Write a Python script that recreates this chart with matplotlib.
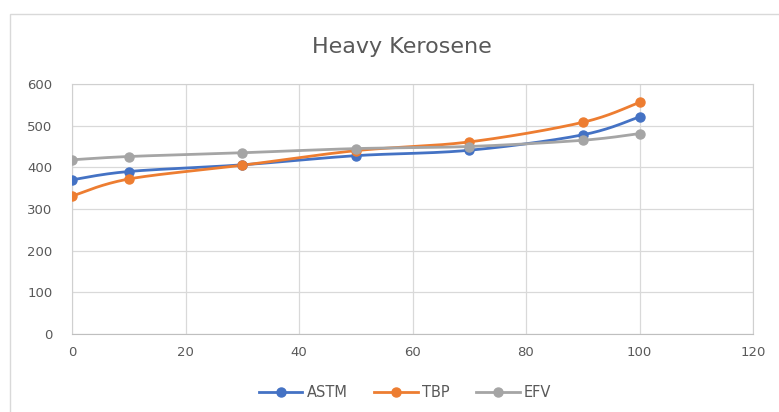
import numpy as np
import matplotlib.pyplot as plt

# distillation curves, temperature vs. volume % distilled
vol_pct = [0, 10, 30, 50, 70, 90, 100]
astm = [370, 390, 406, 428, 441, 478, 521]
tbp = [331, 372, 405, 440, 461, 508, 556]
efv = [418, 426, 435, 445, 450, 465, 481]

series_names = ["ASTM", "TBP", "EFV"]
series_colors = ["#4472C4", "#ED7D31", "#A5A5A5"]


def smooth_curve(x, y, n=30):
    # Catmull-Rom style bezier through the points (spreadsheet "smoothed line")
    p = np.column_stack([x, y]).astype(float)
    p = np.vstack([p[0], p, p[-1]])
    out = []
    for i in range(1, len(p) - 2):
        p0, p1, p2, p3 = p[i - 1], p[i], p[i + 1], p[i + 2]
        c1 = p1 + (p2 - p0) / 6.0
        c2 = p2 - (p3 - p1) / 6.0
        t = np.linspace(0, 1, n)[:, None]
        seg = ((1 - t) ** 3) * p1 + 3 * ((1 - t) ** 2) * t * c1 \
            + 3 * (1 - t) * t ** 2 * c2 + t ** 3 * p2
        out.append(seg if i == 1 else seg[1:])
    out = np.vstack(out)
    return out[:, 0], out[:, 1]


fig = plt.figure(figsize=(7.79, 4.12), dpi=100)
ax = fig.add_axes([72 / 779, 78 / 412, 681 / 779, 250 / 412])

for name, vals, col in zip(series_names, [astm, tbp, efv], series_colors):
    sx, sy = smooth_curve(vol_pct, vals)
    ax.plot(sx, sy, color=col, lw=2.0, zorder=3)
    ax.plot(vol_pct, vals, "o", color=col, ms=6.5, zorder=4)
    ax.plot([], [], "-o", color=col, lw=2.0, ms=6.5, label=name)

ax.set_xlim(0, 120)
ax.set_ylim(0, 600)
ax.set_xticks(range(0, 121, 20))
ax.set_yticks(range(0, 601, 100))
ax.grid(True, color="#D9D9D9", lw=0.9)
ax.set_axisbelow(True)
for s in ax.spines.values():
    s.set_color("#D0D0D0")
ax.spines["bottom"].set_color("#BFBFBF")
ax.tick_params(length=0, labelsize=9.5, labelcolor="#595959")
ax.tick_params(axis="y", pad=14)
ax.tick_params(axis="x", pad=9)

fig.text(402 / 779, 0.886, "Heavy Kerosene", ha="center", va="center",
         fontsize=16, color="#595959")

fig.legend(loc="center", bbox_to_anchor=(405 / 779, 0.048), ncol=3, frameon=False,
           fontsize=10.5, labelcolor="#595959", handlelength=3,
           columnspacing=1.8, handletextpad=0.3)

# chart area outline, runs off the right and bottom edges
fig.patches.append(plt.Rectangle((10 / 779, -0.05), 1.0, (412 - 14) / 412 + 0.05,
                                 transform=fig.transFigure,
                                 fill=False, ec="#D9D9D9", lw=1.0))

fig.savefig("out.png", dpi=100)
